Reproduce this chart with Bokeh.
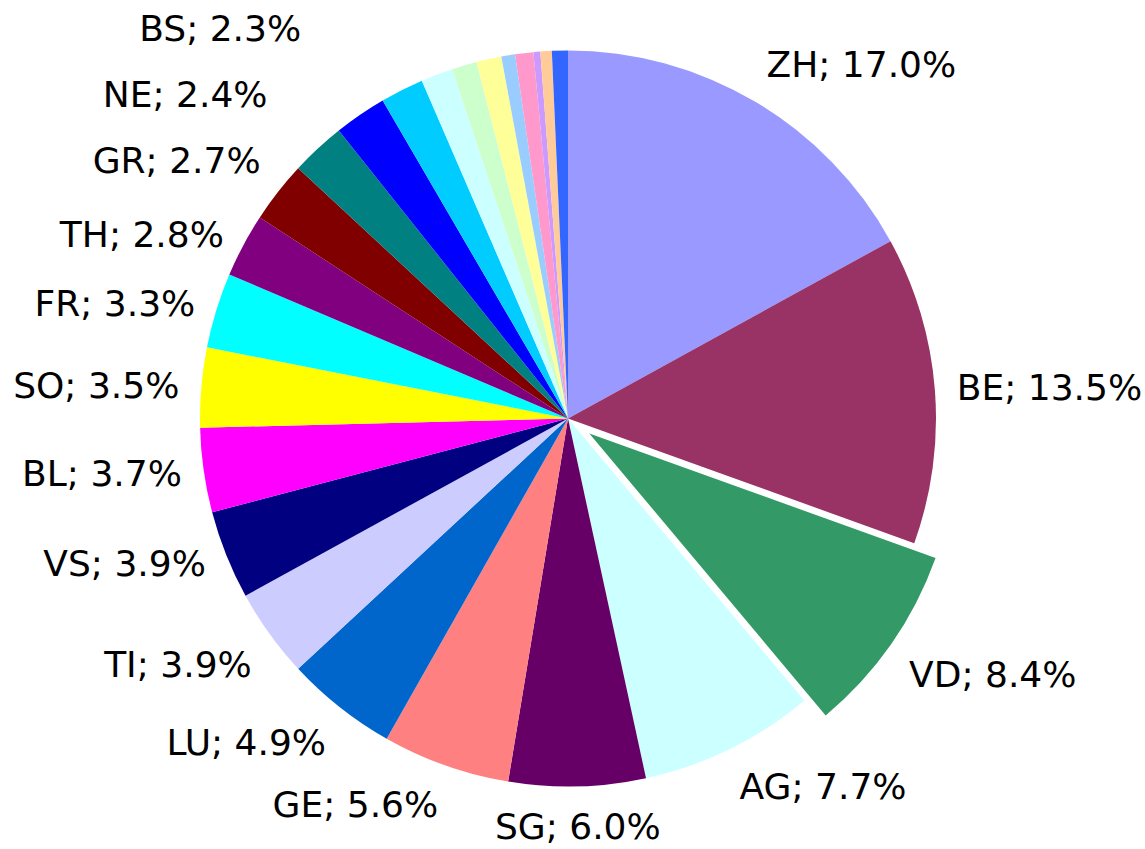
import math
from bokeh.plotting import figure
from bokeh.models import ColumnDataSource, Range1d
from bokeh.core.properties import field, value
from bokeh.embed import file_html
from bokeh.resources import INLINE

# ---- data ----
cantons = ["ZH", "BE", "VD", "AG", "SG", "GE", "LU", "TI", "VS", "BL", "SO", "FR",
           "TH", "GR", "NE", "BS", "SZ", "ZG", "SH", "JU", "AR", "NW", "AI", "OW", "UR"]
shares = [17.0, 13.5, 8.4, 7.7, 6.0, 5.6, 4.9, 3.9, 3.9, 3.7, 3.5, 3.3,
          2.8, 2.7, 2.4, 2.3, 1.9, 1.4, 1.1, 1.1, 0.6, 0.8, 0.3, 0.5, 0.7]
colors = ["#9999FF", "#993366", "#339966", "#CCFFFF", "#660066", "#FF8080", "#0066CC",
          "#CCCCFF", "#000080", "#FF00FF", "#FFFF00", "#00FFFF", "#800080", "#800000",
          "#008080", "#0000FF", "#00CCFF", "#CCFFFF", "#CCFFCC", "#FFFF99", "#99CCFF",
          "#FF99CC", "#CC99FF", "#FFCC99", "#3366FF"]
exploded = "VD"
label_min_share = 2.0

# ---- layout ----
W, H = 1145, 849
CX, CY = 567.5, 849 - 418          # data coords == screen px (y up)
R = 368
EXPLODE = 26
LABEL_R = 390
LABEL_H = 36
SPACING = 66
FONT = "DejaVu Sans"
FONT_SIZE = "36px"

total = sum(shares)
cum = 0.0
wx, wy, sa, ea, mids = [], [], [], [], []
for name, s in zip(cantons, shares):
    a0 = 2 * math.pi * cum / total
    a1 = 2 * math.pi * (cum + s) / total
    cum += s
    mid = (a0 + a1) / 2
    off = EXPLODE if name == exploded else 0
    wx.append(CX + off * math.sin(mid))
    wy.append(CY + off * math.cos(mid))
    sa.append(math.pi / 2 - a1)
    ea.append(math.pi / 2 - a0)
    mids.append(mid)

wedges = ColumnDataSource(dict(x=wx, y=wy, start=sa, end=ea, color=colors))

# labels
lx, ly, lt, la = [], [], [], []
prev_left = None
for i, (name, s) in enumerate(zip(cantons, shares)):
    if s < label_min_share:
        continue
    m = mids[i]
    sn, cs = math.sin(m), math.cos(m)
    r = LABEL_R + (EXPLODE if name == exploded else 0)
    ax, ay = CX + r * sn, CY + r * cs
    if cs < -0.5:
        cyl = ay - LABEL_H / 2
    elif cs > 0.5:
        cyl = ay + LABEL_H / 2
    else:
        cyl = ay
    if sn < 0:
        if cs > 0 and prev_left is not None and cyl < prev_left + SPACING:
            cyl = prev_left + SPACING
            t = (cyl - CY) / cs
            ax = CX + t * sn
        prev_left = cyl
    if sn > 0.15:
        al = "left"
    elif sn < -0.15:
        al = "right"
    else:
        al = "center"
    lx.append(ax)
    ly.append(cyl)
    lt.append(f"{name}; {s:.1f}%")
    la.append(al)

labels = ColumnDataSource(dict(x=lx, y=ly, text=lt, align=la))

p = figure(width=W, height=H, output_backend="svg", toolbar_location=None,
           x_range=Range1d(0, W), y_range=Range1d(849 - H, 849),
           min_border=0, outline_line_color=None)
p.axis.visible = False
p.xgrid.visible = False
p.ygrid.visible = False
p.background_fill_color = "white"

p.wedge(x="x", y="y", radius=R, start_angle="start", end_angle="end",
        fill_color="color", line_color=None, source=wedges)
p.text(x="x", y="y", text="text", source=labels, text_align=field("align"),
       text_baseline="middle", text_font=value(FONT), text_font_size=FONT_SIZE,
       text_color="black")

open("out.html", "w").write(file_html(p, INLINE))
